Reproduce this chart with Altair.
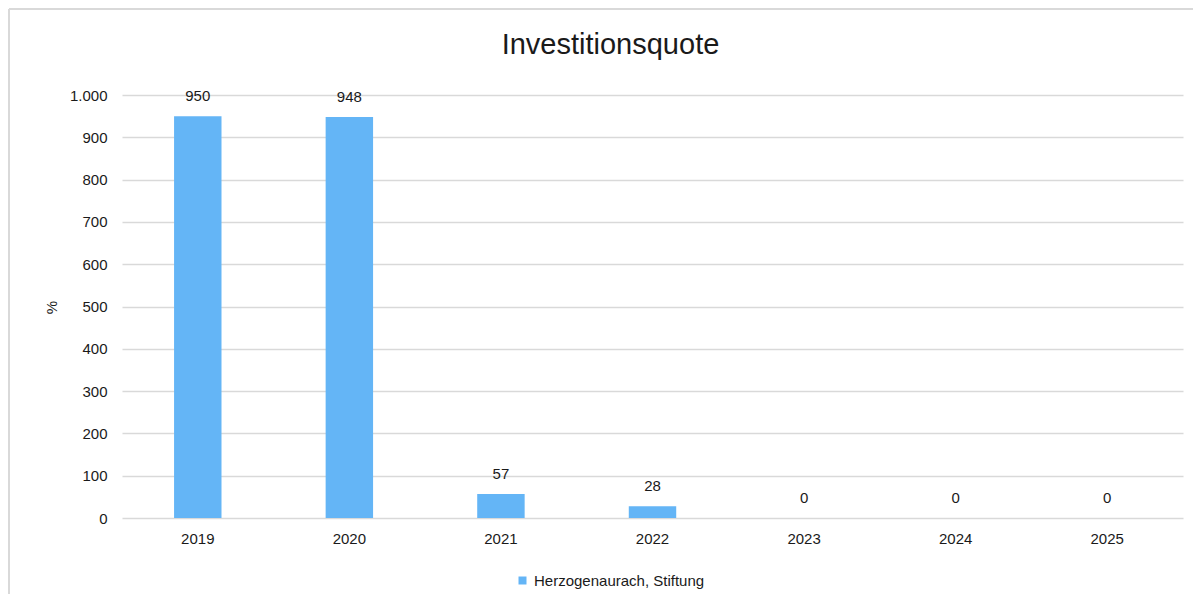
import altair as alt
import pandas as pd

years = ["2019", "2020", "2021", "2022", "2023", "2024", "2025"]
values = [950, 948, 57, 28, 0, 0, 0]
series = "Herzogenaurach, Stiftung"
y_ticks = [0, 100, 200, 300, 400, 500, 600, 700, 800, 900, 1000]

df = pd.DataFrame({"Jahr": years, "Wert": values, "Serie": [series] * len(years)})

FONT = "Liberation Sans"
TXT = "#1a1a1a"
W, H = 1061, 423

base = alt.Chart(df).encode(
    x=alt.X(
        "Jahr:N",
        sort=years,
        scale=alt.Scale(paddingInner=0.687, paddingOuter=0.3435),
        axis=alt.Axis(
            title=None, labelAngle=0, ticks=False, domain=False, grid=False,
            labelFont=FONT, labelFontSize=15, labelColor=TXT, labelPadding=13,
        ),
    ),
    y=alt.Y(
        "Wert:Q",
        scale=alt.Scale(domain=[0, 1000], nice=False),
        axis=alt.Axis(
            title="%", values=y_ticks, ticks=False, tickSize=0, domain=False,
            grid=True, gridColor="#d9d9d9", gridWidth=1.5,
            labelFont=FONT, labelFontSize=15, labelColor=TXT, labelPadding=15,
            labelExpr="replace(format(datum.value, ','), ',', '.')",
            titleFont=FONT, titleFontSize=15, titleFontWeight="normal",
            titleColor=TXT, titleAngle=270, titleX=-71, titleY=212,
            titleBaseline="middle", titleAlign="center",
        ),
    ),
)

bars = base.mark_bar(color="#64b5f6").encode(
    color=alt.Color(
        "Serie:N",
        scale=alt.Scale(range=["#64b5f6"]),
        legend=alt.Legend(
            title=None, orient="none", legendX=393, legendY=478,
            symbolType="square", symbolSize=64, symbolStrokeWidth=0,
            labelFont=FONT, labelFontSize=15, labelColor=TXT, labelOffset=4,
            labelLimit=400, padding=0,
        ),
    )
)

labels = base.mark_text(
    font=FONT, fontSize=15, color=TXT, baseline="alphabetic", dy=-15
).encode(text=alt.Text("Wert:Q"))

frame_df = pd.DataFrame({"a": [0]})
border_top = alt.Chart(frame_df).mark_rule(color="#d9d9d9", strokeWidth=2).encode(
    x=alt.value(-113), x2=alt.value(W + 200), y=alt.value(-86),
)
border_left = alt.Chart(frame_df).mark_rule(color="#d9d9d9", strokeWidth=2).encode(
    x=alt.value(-113), y=alt.value(-86), y2=alt.value(H + 200),
)

chart = alt.layer(bars, labels, border_top, border_left).properties(
    width=W,
    height=H,
    title=alt.TitleParams(
        "Investitionsquote", font=FONT, fontSize=29, fontWeight="normal",
        color=TXT, anchor="middle", frame="group", dx=-42, baseline="alphabetic",
        offset=-75,
    ),
    autosize=alt.AutoSizeParams(type="none"),
    padding={"left": 114, "top": 87, "right": 10, "bottom": 76},
    background="white",
).configure_view(strokeWidth=0, stroke="transparent")

chart.save("out.html", embed_options={"renderer": "svg", "actions": False})
